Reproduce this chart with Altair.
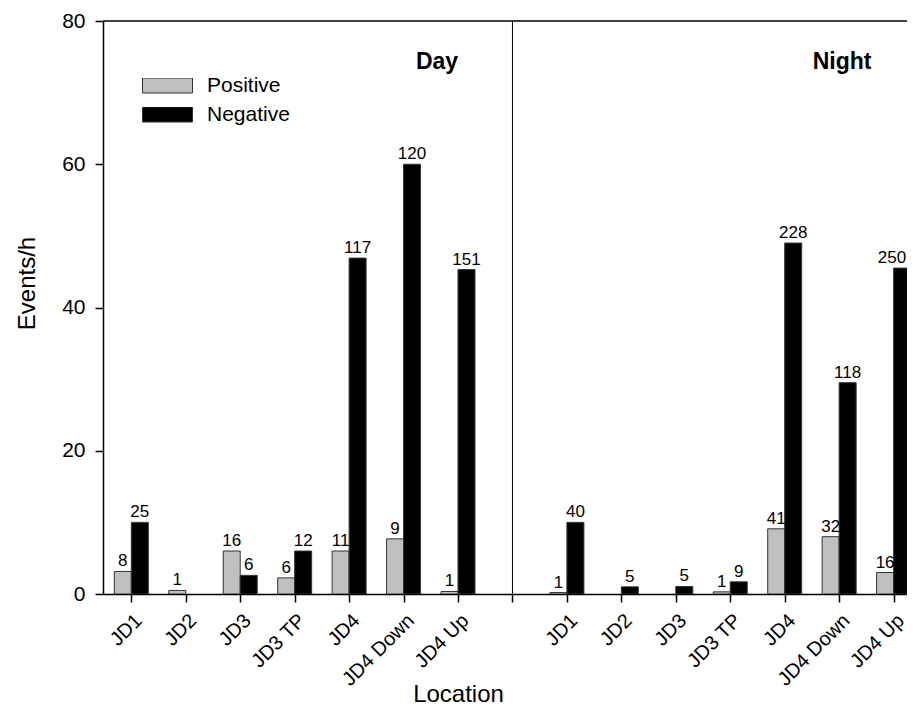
import altair as alt
import pandas as pd

locations = ["JD1", "JD2", "JD3", "JD3 TP", "JD4", "JD4 Down", "JD4 Up"]
periods = ["Day", "Night"]
groups = ["Positive", "Negative"]

day_pos = [3.15, 0.5, 6.0, 2.25, 6.0, 7.7, 0.35]
day_neg = [10.0, 0.0, 2.6, 6.0, 46.9, 60.0, 45.3]
night_pos = [0.2, 0.0, 0.0, 0.3, 9.1, 8.0, 3.0]
night_neg = [10.0, 1.0, 1.05, 1.7, 49.0, 29.5, 45.5]

day_pos_lbl = ["8", "1", "16", "6", "11", "9", "1"]
day_neg_lbl = ["25", "", "6", "12", "117", "120", "151"]
night_pos_lbl = ["1", "", "", "1", "41", "32", "16"]
night_neg_lbl = ["40", "5", "5", "9", "228", "118", "250"]

y_ticks = [0, 20, 40, 60, 80]

rows = []
series = {
    ("Day", "Positive"): (day_pos, day_pos_lbl),
    ("Day", "Negative"): (day_neg, day_neg_lbl),
    ("Night", "Positive"): (night_pos, night_pos_lbl),
    ("Night", "Negative"): (night_neg, night_neg_lbl),
}
for (period, group), (vals, lbls) in series.items():
    base = 0 if period == "Day" else len(locations) + 1
    for i, loc in enumerate(locations):
        rows.append({"period": period, "group": group, "location": loc,
                     "slot": base + i, "value": vals[i], "label": lbls[i]})
df = pd.DataFrame(rows)

tick_names = locations + [""] + locations
label_expr = "[" + ",".join("'" + t + "'" for t in tick_names) + "][datum.value]"

BW = 0.312
FONT = "Liberation Sans, Arial, Helvetica, sans-serif"
xscale = alt.Scale(domain=[-0.52, 14.246], nice=False, zero=False)
yscale = alt.Scale(domain=[0, 80], nice=False)

base = alt.Chart(df).transform_calculate(
    x0="datum.slot + (datum.group == 'Positive' ? -%f : 0)" % BW,
    x1="datum.slot + (datum.group == 'Positive' ? 0 : %f)" % BW,
    xm="min(datum.slot + (datum.group == 'Positive' ? -%f : %f), 13.97)" % (BW / 2, BW / 2),
    zero="0",
)

bars = base.transform_filter("datum.value > 0").mark_bar(
    stroke="#333333", strokeWidth=1, clip=True
).encode(
    x=alt.X("x0:Q", scale=xscale, axis=alt.Axis(
        values=list(range(len(tick_names))), labelExpr=label_expr,
        title="Location", labelAngle=315, labelAlign="right", labelBaseline="top",
        labelPadding=8, tickSize=8, labelFontSize=20, titleFontSize=24,
        titleFontWeight="normal", titleX=355, titleY=100, titleBaseline="middle",
        grid=False, domainColor="black", tickColor="black", labelColor="black",
        labelFont=FONT, titleFont=FONT, labelOverlap=False, labelBound=False,
        labelFlush=False)),
    x2="x1:Q",
    y=alt.Y("value:Q", scale=yscale, axis=alt.Axis(
        values=y_ticks, title="Events/h", tickSize=8, labelPadding=10,
        labelFontSize=21, titleFontSize=24, titleFontWeight="normal",
        titlePadding=22, titleY=262, grid=False, domainColor="black", tickColor="black",
        labelColor="black", labelFont=FONT, titleFont=FONT)),
    y2="zero:Q",
    fill=alt.Fill("group:N", scale=alt.Scale(domain=groups, range=["#c0c0c0", "#000000"]),
                  legend=alt.Legend(title=None, orient="none", legendX=39, legendY=57,
                                    symbolType="M-1,-0.3H1V0.3H-1Z", symbolSize=2500,
                                    symbolStrokeColor="#333333", symbolStrokeWidth=1,
                                    clipHeight=15, rowPadding=7, labelOffset=14,
                                    labelFontSize=21, labelFont=FONT, labelColor="black",
                                    padding=0)),
)

labels = base.transform_filter("datum.label != ''").mark_text(
    baseline="bottom", dy=-1, fontSize=17, font=FONT, color="black"
).encode(
    x=alt.X("xm:Q", scale=xscale),
    y=alt.Y("value:Q", scale=yscale),
    text="label:N",
)

divider = alt.Chart(pd.DataFrame({"slot": [len(locations)]})).mark_rule(
    color="black", strokeWidth=1
).encode(x=alt.X("slot:Q", scale=xscale), y=alt.value(0), y2=alt.value(573))

top_line = alt.Chart(pd.DataFrame({"v": [80]})).mark_rule(
    color="black", strokeWidth=1.5
).encode(y=alt.Y("v:Q", scale=yscale), x=alt.value(0), x2=alt.value(804))

panel = alt.Chart(pd.DataFrame({"p": periods, "px": [334, 739]})).mark_text(
    fontSize=23, fontWeight="bold", font=FONT, color="black", baseline="alphabetic"
).encode(x=alt.X("px:Q", scale=None), y=alt.value(48), text="p:N")

chart = alt.layer(bars, labels, divider, top_line, panel).properties(
    width=804, height=573,
    autosize=alt.AutoSizeParams(type="none"),
    padding={"left": 95, "top": 13, "right": 0, "bottom": 111},
).configure_view(stroke=None).configure_axis(domainWidth=1.5, tickWidth=1.5)

chart.save("out.html", embed_options={"renderer": "svg", "actions": False})
